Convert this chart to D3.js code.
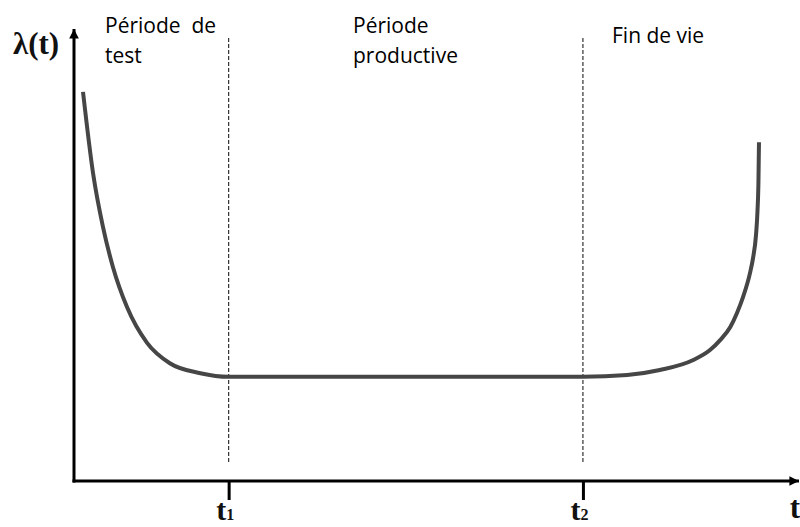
<!DOCTYPE html>
<html>
<head>
<meta charset="utf-8">
<script src="https://cdn.jsdelivr.net/npm/d3@7/dist/d3.min.js"></script>
<style>
  html, body { margin: 0; padding: 0; background: #fff; }
  svg { display: block; }
</style>
</head>
<body>
<script>
// ---- data ----
const curveT      = [1.24, 2.62, 3.99, 5.37, 7.30, 10.06, 13.2, 17.4, 21.3, 44.9, 70.1, 76.2, 80.7, 85.3, 87.6, 89.0, 90.4, 91.32, 92.15, 93.11, 93.53, 93.94, 94.15, 94.28, 94.35];
const curveLambda = [85.9, 68.0, 56.1, 47.2, 38.4, 30.5, 26.0, 23.8, 23.0, 23.0, 23.0, 23.4, 24.5, 26.7, 28.9, 31.1, 34.0, 37.1, 40.6, 45.9, 49.2, 54.3, 59.8, 66.4, 74.8];
const tickTimes   = [21.3, 70.1];
const tickMain    = ["t", "t"];
const tickSubs    = ["1", "2"];
const phaseLines  = [["Période  de", "test"], ["Période", "productive"], ["Fin de vie"]];
const yAxisLabel  = "λ(t)";
const xAxisLabel  = "t";

// ---- layout ----
const W = 800, H = 527;
const x = d3.scaleLinear().domain([0, 100]).range([74, 800]);
const y = d3.scaleLinear().domain([0, 100]).range([481, 28]);

const svg = d3.select("body").append("svg").attr("width", W).attr("height", H);

const defs = svg.append("defs");
defs.append("marker").attr("id", "arrow")
  .attr("viewBox", "0 0 10 10").attr("refX", 10).attr("refY", 5)
  .attr("markerWidth", 4.3).attr("markerHeight", 3.2).attr("markerUnits", "strokeWidth")
  .attr("orient", "auto")
  .append("path").attr("d", "M0,0L10,5L0,10Z").attr("fill", "#000");

// dashed period separators
svg.append("g").selectAll("line").data(tickTimes).join("line")
  .attr("x1", d => x(d)).attr("x2", d => x(d))
  .attr("y1", y(97.8)).attr("y2", y(4.2))
  .attr("stroke", "#333").attr("stroke-width", 1.2).attr("stroke-dasharray", "4,2");

// x axis with ticks
const xAxis = d3.axisBottom(x).tickValues(tickTimes).tickSize(19).tickSizeOuter(0).tickFormat("");
const gx = svg.append("g").attr("transform", `translate(0,${y(0)})`).call(xAxis);
gx.select(".domain").remove();
gx.selectAll(".tick line").attr("stroke", "#000").attr("stroke-width", 3);
gx.selectAll(".tick text").remove();
gx.selectAll(".tick").each(function(d, i) {
  const t = d3.select(this).append("text")
    .attr("x", -4).attr("y", 39)
    .attr("text-anchor", "middle")
    .attr("font-family", "'Liberation Serif', 'Times New Roman', serif")
    .attr("font-weight", "bold").attr("fill", "#111");
  t.append("tspan").attr("font-size", 30).text(tickMain[i]);
  t.append("tspan").attr("font-size", 16).text(tickSubs[i]);
});

// axis lines with arrows
svg.append("line").attr("x1", x(0) - 1.5).attr("x2", x(100) - 1)
  .attr("y1", y(0)).attr("y2", y(0))
  .attr("stroke", "#000").attr("stroke-width", 3).attr("marker-end", "url(#arrow)");
svg.append("line").attr("x1", x(0)).attr("x2", x(0))
  .attr("y1", y(0) + 1.5).attr("y2", y(100) + 1)
  .attr("stroke", "#000").attr("stroke-width", 3).attr("marker-end", "url(#arrow)");

// bathtub curve
const pts = curveT.map((t, i) => [t, curveLambda[i]]);
svg.append("path").datum(pts)
  .attr("d", d3.line().x(d => x(d[0])).y(d => y(d[1])).curve(d3.curveMonotoneX))
  .attr("fill", "none").attr("stroke", "#464646").attr("stroke-width", 4);

// axis titles
svg.append("text").attr("x", 13).attr("y", 54)
  .attr("font-family", "'Liberation Serif', 'Times New Roman', serif")
  .attr("font-weight", "bold").attr("font-size", 31).attr("fill", "#111")
  .text(yAxisLabel);
svg.append("text").attr("x", 800).attr("y", 518).attr("text-anchor", "end")
  .attr("font-family", "'Liberation Serif', 'Times New Roman', serif")
  .attr("font-weight", "bold").attr("font-size", 31).attr("fill", "#111")
  .text(xAxisLabel);

// phase labels
const phasePos = [[105, 33], [353, 33], [612, 43]];
phaseLines.forEach((lines, i) => {
  const t = svg.append("text")
    .attr("font-family", "'Open Sans', sans-serif").attr("font-size", 21).attr("fill", "#000")
    .attr("xml:space", "preserve").style("white-space", "pre");
  lines.forEach((s, j) => {
    t.append("tspan").attr("x", phasePos[i][0]).attr("y", phasePos[i][1] + j * 29.5).text(s);
  });
});
</script>
</body>
</html>
